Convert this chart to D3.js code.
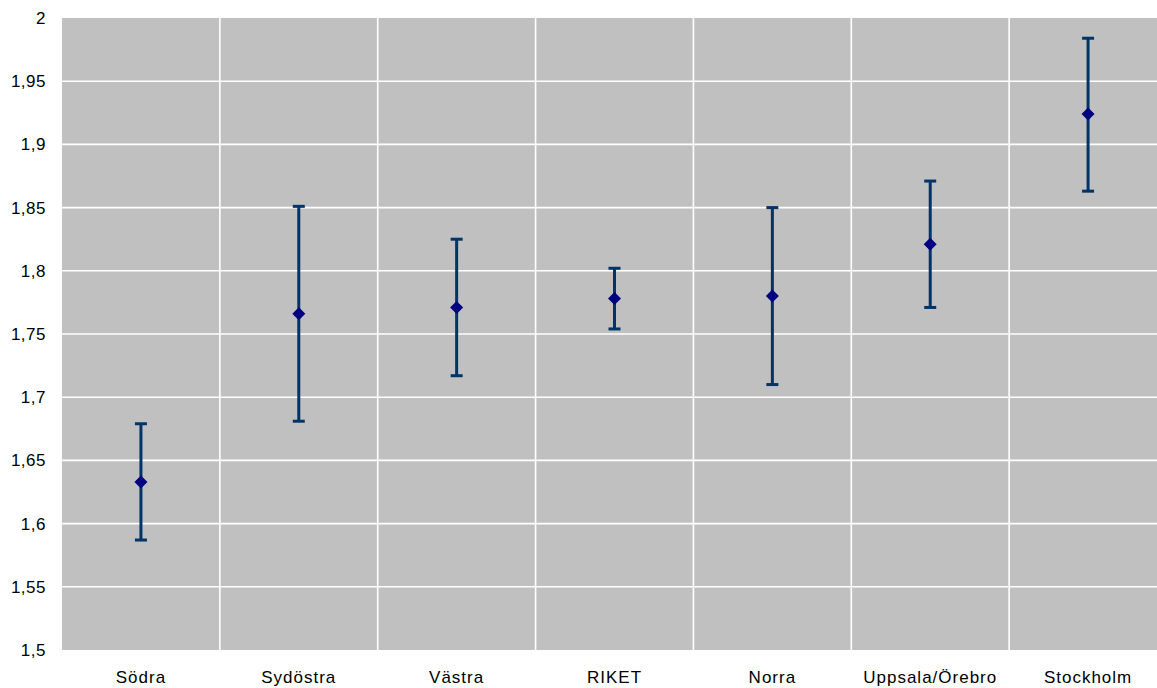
<!DOCTYPE html>
<html>
<head>
<meta charset="utf-8">
<script src="https://cdn.jsdelivr.net/npm/d3@7"></script>
<style>
  html, body { margin: 0; padding: 0; background: #ffffff; }
  svg { display: block; }
  text { font-family: "Liberation Sans", Arial, sans-serif; fill: #000; }
</style>
</head>
<body>
<svg id="chart" width="1157" height="688"></svg>
<script>
// Regions with mean and confidence interval
const regions = ["Södra", "Sydöstra", "Västra", "RIKET", "Norra", "Uppsala/Örebro", "Stockholm"];
const means   = [1.633, 1.766, 1.771, 1.778, 1.780, 1.821, 1.924];
const lowers  = [1.587, 1.681, 1.717, 1.754, 1.710, 1.771, 1.863];
const uppers  = [1.679, 1.851, 1.825, 1.802, 1.850, 1.871, 1.984];
const yTicks  = [1.5, 1.55, 1.6, 1.65, 1.7, 1.75, 1.8, 1.85, 1.9, 1.95, 2];

const W = 1157, H = 688;
const margin = { left: 62, top: 18, bottom: 38 };
const plotW = 1105; // plot runs slightly past the right edge of the canvas
const plotH = H - margin.top - margin.bottom;

const svg = d3.select("#chart");
const g = svg.append("g").attr("transform", `translate(${margin.left},${margin.top})`);

const x = d3.scaleBand().domain(regions).range([0, plotW]).padding(0);
const y = d3.scaleLinear().domain([1.5, 2]).range([plotH, 0]);

// Plot background
g.append("rect")
  .attr("x", 0).attr("y", 0)
  .attr("width", plotW).attr("height", plotH)
  .attr("fill", "#c0c0c0");

// Horizontal gridlines
g.append("g").selectAll("line")
  .data(yTicks.filter(t => t > 1.5 && t < 2))
  .join("line")
  .attr("x1", 0).attr("x2", plotW)
  .attr("y1", d => y(d)).attr("y2", d => y(d))
  .attr("stroke", "#ffffff").attr("stroke-width", 1.6);

// Vertical gridlines between categories
g.append("g").selectAll("line")
  .data(regions.slice(1))
  .join("line")
  .attr("x1", d => x(d)).attr("x2", d => x(d))
  .attr("y1", 0).attr("y2", plotH)
  .attr("stroke", "#ffffff").attr("stroke-width", 1.6);

// Y axis tick labels
const yAxis = d3.axisLeft(y)
  .tickValues(yTicks)
  .tickSize(0)
  .tickPadding(16)
  .tickFormat(d => String(d).replace(".", ","));
const ya = g.append("g").call(yAxis);
ya.select(".domain").remove();
ya.selectAll("text")
  .style("font-family", '"Liberation Sans", Arial, sans-serif')
  .style("font-size", "17px")
  .style("letter-spacing", "0.5px")
  .attr("fill", "#000");

// X axis category labels
const xAxis = d3.axisBottom(x).tickSize(0).tickPadding(21);
const xa = g.append("g").attr("transform", `translate(0,${plotH})`).call(xAxis);
xa.select(".domain").remove();
xa.selectAll("text")
  .style("font-family", '"Liberation Sans", Arial, sans-serif')
  .style("font-size", "17px")
  .style("letter-spacing", "1px")
  .attr("fill", "#000");

// Error bars
const cx = d => x(d) + x.bandwidth() / 2;
const barColor = "#003366";
const capHalf = 6;
const bars = g.append("g");
regions.forEach((r, i) => {
  bars.append("line")
    .attr("x1", cx(r)).attr("x2", cx(r))
    .attr("y1", y(lowers[i])).attr("y2", y(uppers[i]))
    .attr("stroke", barColor).attr("stroke-width", 3);
  [lowers[i], uppers[i]].forEach(v => {
    bars.append("line")
      .attr("x1", cx(r) - capHalf).attr("x2", cx(r) + capHalf)
      .attr("y1", y(v)).attr("y2", y(v))
      .attr("stroke", barColor).attr("stroke-width", 3);
  });
});

// Mean markers (diamonds)
const r0 = 6.5;
const diamondPath = `M0,${-r0}L${r0},0L0,${r0}L${-r0},0Z`;
g.append("g").selectAll("path")
  .data(regions)
  .join("path")
  .attr("d", diamondPath)
  .attr("transform", (d, i) => `translate(${cx(d)},${y(means[i])})`)
  .attr("fill", "#000080");
</script>
</body>
</html>
